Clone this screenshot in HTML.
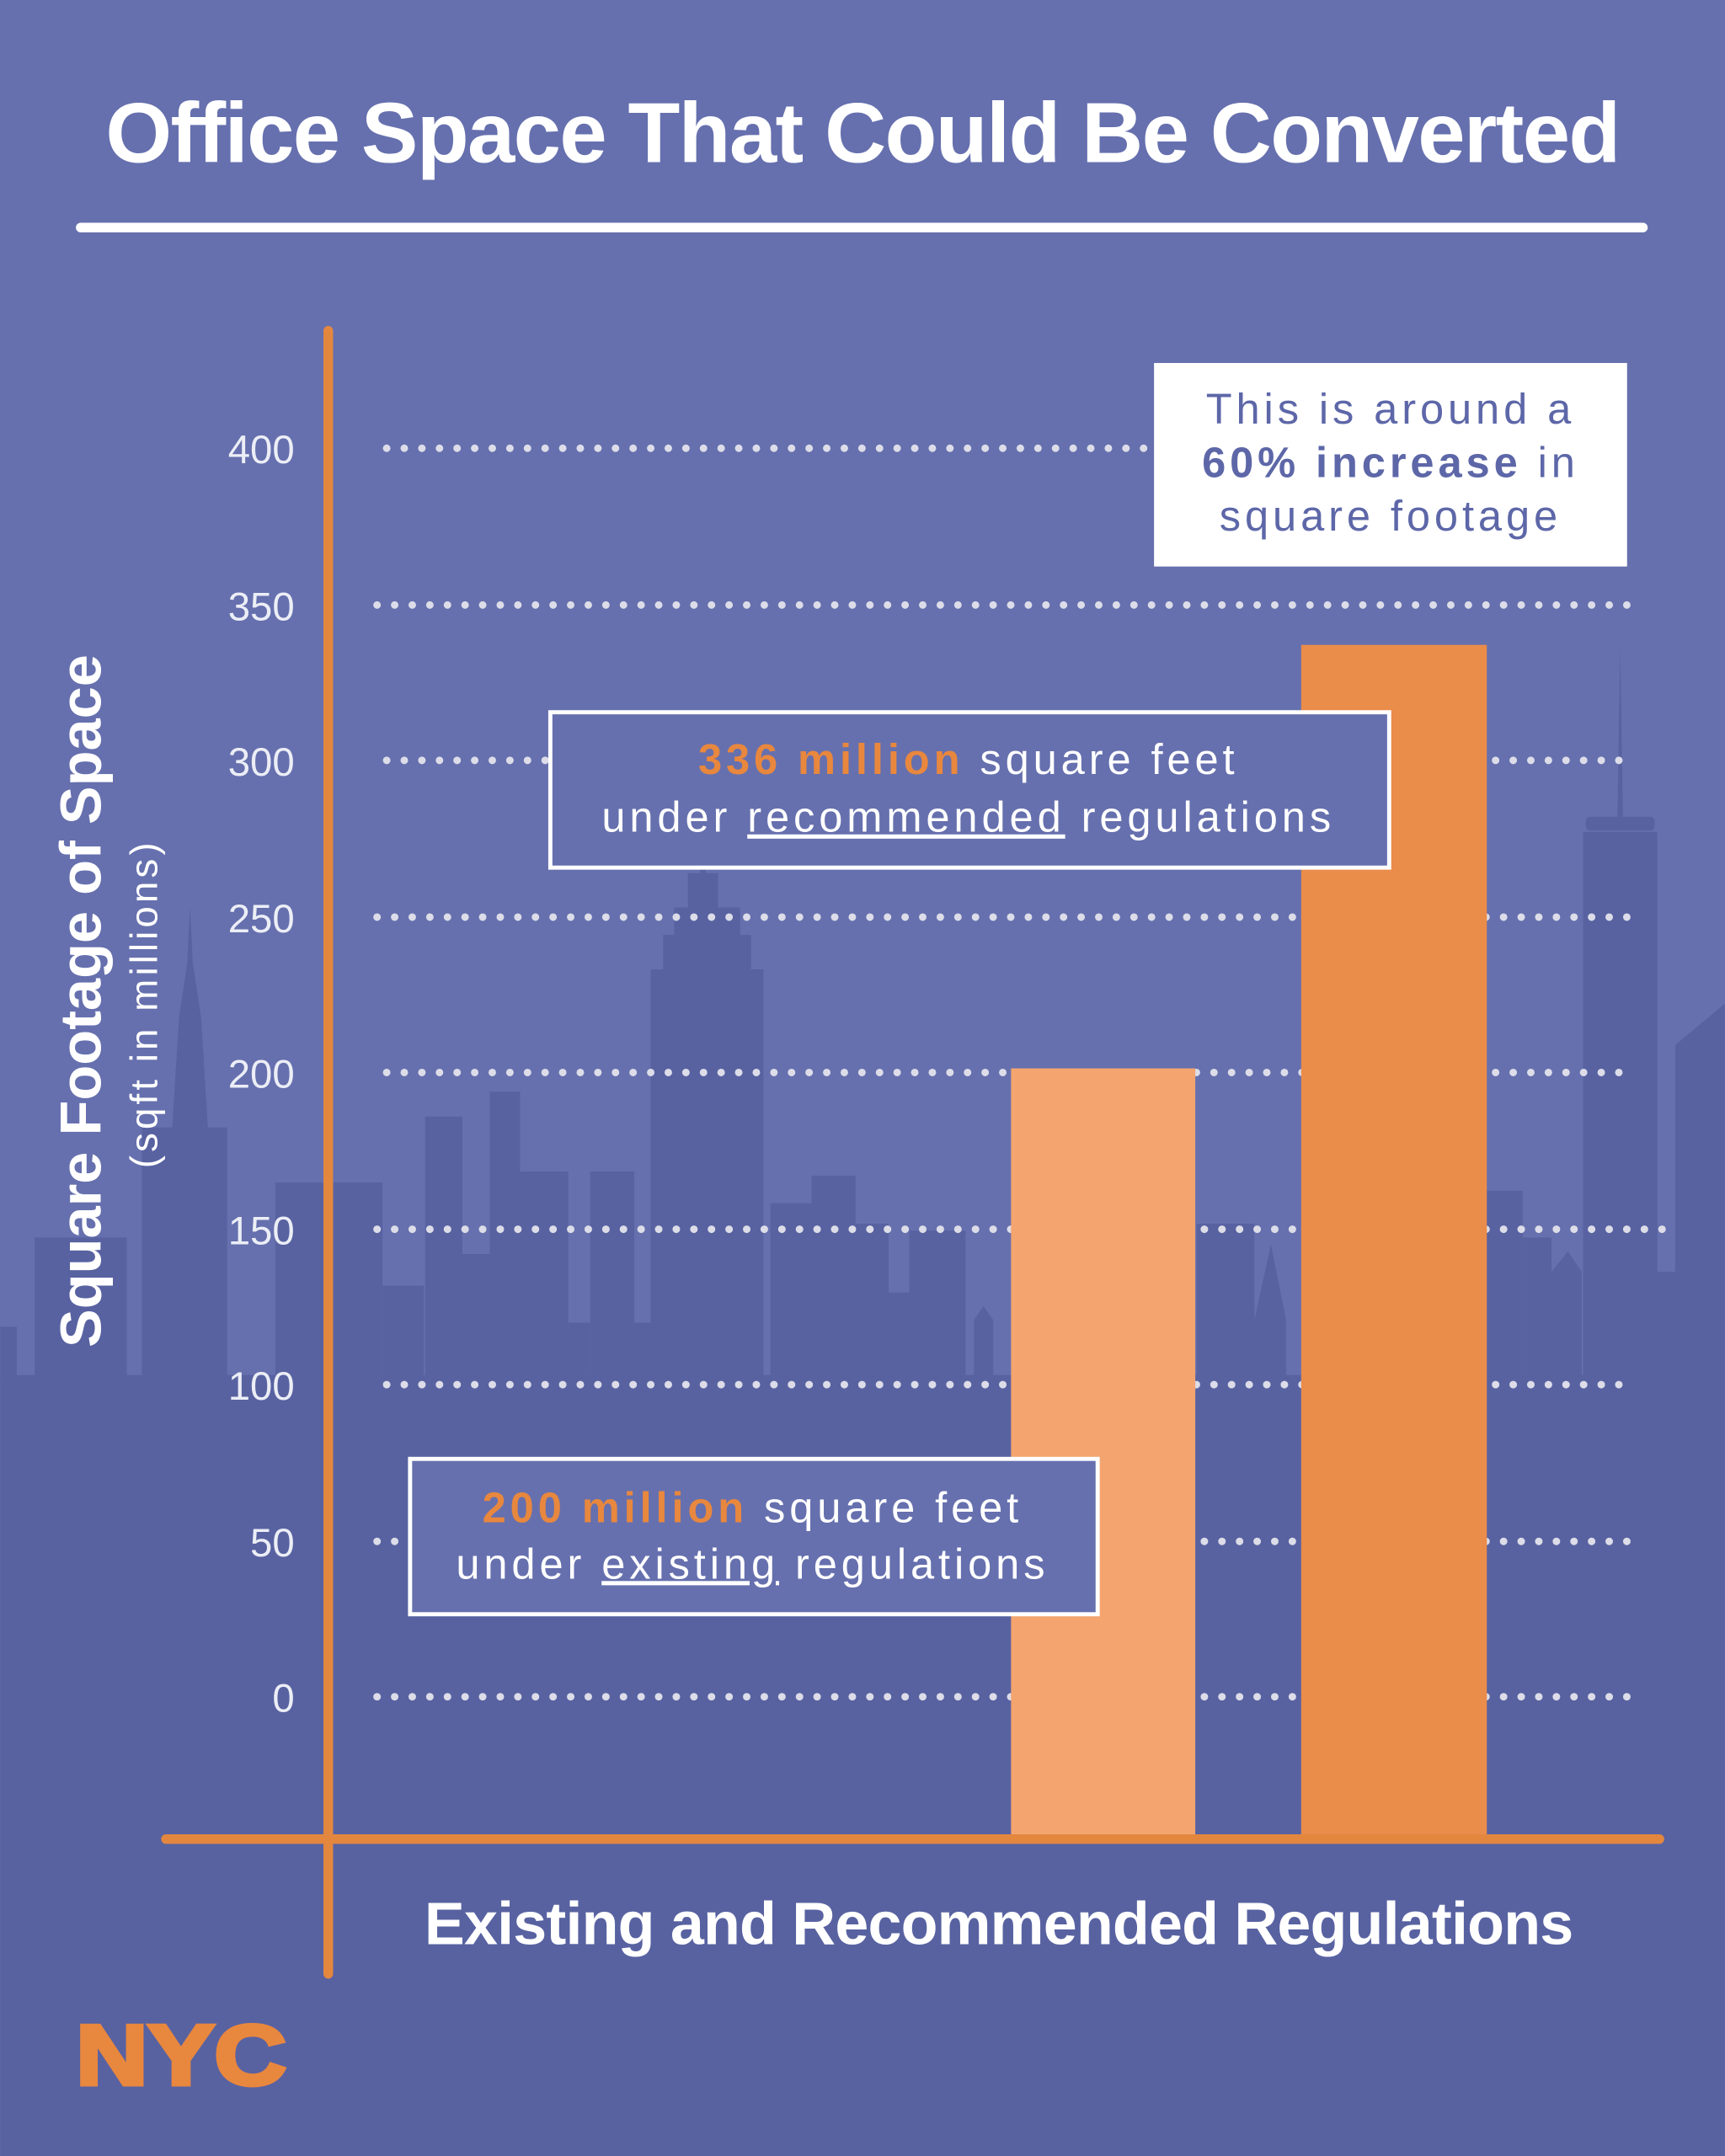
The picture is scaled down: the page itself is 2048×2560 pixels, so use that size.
<!DOCTYPE html>
<html><head><meta charset="utf-8"><style>
html,body{margin:0;padding:0;background:#6670ae;}
svg{display:block;}
text{font-family:"Liberation Sans",sans-serif;}
</style></head><body>
<svg width="2048" height="2560" viewBox="0 0 1254 1568" xmlns="http://www.w3.org/2000/svg">
<rect width="1254" height="1568" fill="#6670ae"/>
<g fill="#5862a1">
<rect x="0" y="1000" width="1254" height="568"/>
<rect x="0" y="965" width="12" height="40"/>
<rect x="25" y="900" width="67" height="105"/>
<rect x="103" y="820" width="62" height="185"/>
<polygon points="125,820 130,740 136,700 138,660 140,700 146,740 151,820"/>
<rect x="200" y="860" width="78" height="145"/>
<rect x="278" y="935" width="30" height="70"/>
<rect x="309" y="812" width="27" height="193"/>
<rect x="336" y="912" width="20" height="93"/>
<rect x="356" y="794" width="22" height="211"/>
<rect x="378" y="852" width="35" height="153"/>
<rect x="413" y="962" width="16" height="43"/>
<rect x="429" y="852" width="32" height="153"/>
<rect x="461" y="962" width="12" height="43"/>
<rect x="473" y="705" width="82" height="300"/>
<rect x="482" y="680" width="64" height="30"/>
<rect x="490" y="660" width="48" height="25"/>
<rect x="500" y="635" width="22" height="30"/>
<rect x="509" y="560" width="4" height="80"/>
<rect x="560" y="875" width="30" height="130"/>
<rect x="590" y="855" width="32" height="150"/>
<rect x="622" y="890" width="24" height="115"/>
<rect x="646" y="940" width="15" height="65"/>
<rect x="661" y="895" width="41" height="110"/>
<polygon points="708,1005 708,960 715,950 722,960 722,1005"/>
<rect x="870" y="890" width="42" height="115"/>
<polygon points="912,1005 912,960 924,905 935,960 935,1005"/>
<rect x="1080" y="866" width="27" height="139"/>
<rect x="1107" y="900" width="21" height="105"/>
<polygon points="1128,1005 1128,925 1140,910 1150,925 1150,1005"/>
<rect x="1151" y="605" width="54" height="400"/>
<rect x="1153" y="594" width="50" height="10" rx="3"/>
<polygon points="1176,594 1178,470 1180,594"/>
<rect x="1205" y="925" width="14" height="80"/>
<polygon points="1218,1005 1218,760 1254,730 1254,1005"/>
</g>
<text x="627" y="118" text-anchor="middle" fill="#fff" font-size="62" font-weight="bold" letter-spacing="-1">Office Space That Could Be Converted</text>
<rect x="55" y="162" width="1143" height="7" rx="3.5" fill="#fff"/>
<g stroke="#dcdde8" stroke-width="5.5" stroke-linecap="round" stroke-dasharray="0 12.8">
<line x1="281" y1="326" x2="1185" y2="326"/>
<line x1="274" y1="440" x2="1185" y2="440"/>
<line x1="281" y1="553" x2="1185" y2="553"/>
<line x1="274" y1="667" x2="1185" y2="667"/>
<line x1="281" y1="780" x2="1185" y2="780"/>
<line x1="274" y1="894" x2="1210" y2="894"/>
<line x1="281" y1="1007" x2="1185" y2="1007"/>
<line x1="274" y1="1121" x2="1185" y2="1121"/>
<line x1="274" y1="1234" x2="1185" y2="1234"/>
</g>
<g fill="#eceef6" font-size="29" text-anchor="end">
<text x="214" y="337">400</text><text x="214" y="451">350</text><text x="214" y="564">300</text>
<text x="214" y="678">250</text><text x="214" y="791">200</text><text x="214" y="905">150</text>
<text x="214" y="1018">100</text><text x="214" y="1132">50</text><text x="214" y="1245">0</text>
</g>
<rect x="735" y="777" width="134" height="558" fill="#f4a46e"/>
<rect x="946" y="469" width="135" height="866" fill="#ea8c4a"/>
<rect x="235" y="237" width="7" height="1202" rx="3.5" fill="#e3873f"/>
<rect x="117" y="1334" width="1093" height="7" rx="3.5" fill="#e3873f"/>
<text transform="translate(73,728) rotate(-90)" text-anchor="middle" fill="#fff" font-size="42" font-weight="bold">Square Footage of Space</text>
<text transform="translate(114,730) rotate(-90)" text-anchor="middle" fill="#fff" font-size="28" letter-spacing="2.5">(sqft in millions)</text>
<rect x="839" y="264" width="344" height="148" fill="#fff"/>
<g fill="#5d67a8" font-size="31" text-anchor="middle" letter-spacing="3">
<text x="1011" y="308">This is around a</text>
<text x="1011" y="347"><tspan font-weight="bold">60% increase</tspan> in</text>
<text x="1011" y="386">square footage</text>
</g>
<rect x="400" y="518" width="610" height="113" fill="#6670ae" stroke="#fff" stroke-width="3"/>
<g fill="#fff" font-size="31" text-anchor="middle" letter-spacing="3">
<text x="704" y="563"><tspan fill="#e8873e" font-weight="bold">336 million</tspan> square feet</text>
<text x="704" y="605">under <tspan text-decoration="underline">recommended</tspan> regulations</text>
</g>
<rect x="298" y="1061" width="500" height="113" fill="#6670ae" stroke="#fff" stroke-width="3"/>
<g fill="#fff" font-size="31" text-anchor="middle" letter-spacing="3">
<text x="547" y="1107"><tspan fill="#e8873e" font-weight="bold">200 million</tspan> square feet</text>
<text x="547" y="1148">under <tspan text-decoration="underline">existing</tspan> regulations</text>
</g>
<text x="726" y="1414" text-anchor="middle" fill="#fff" font-size="44" font-weight="bold" letter-spacing="-0.5">Existing and Recommended Regulations</text>
<text x="55" y="1516" fill="#e8873e" font-size="62" font-weight="bold" stroke="#e8873e" stroke-width="3" textLength="153" lengthAdjust="spacingAndGlyphs">NYC</text>
</svg>
</body></html>
